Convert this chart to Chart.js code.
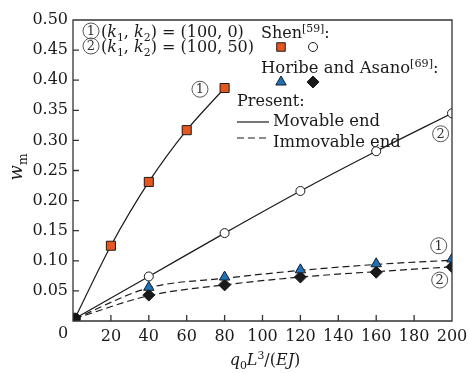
<!DOCTYPE html>
<html>
<head>
<meta charset="utf-8">
<script src="https://cdn.jsdelivr.net/npm/chart.js@4"></script>
<style>
  body { margin: 0; background: #fff; }
</style>
</head>
<body>
<canvas id="c" width="469" height="373"></canvas>
<script>
// values
const xShenSq = [20, 40, 60, 80];
const shenSq = [0.125, 0.231, 0.317, 0.387];
const xShenCirc = [40, 80, 120, 160, 200];
const shenCirc = [0.074, 0.146, 0.216, 0.282, 0.345];
const xHoribe = [40, 80, 120, 160, 200];
const horibeTri = [0.056, 0.073, 0.085, 0.095, 0.103];
const horibeDia = [0.043, 0.060, 0.073, 0.081, 0.090];

const origin = [1, 0.004];
const xMov1 = [1, 20, 40, 60, 80];
const mov1 = [0.004, 0.125, 0.231, 0.317, 0.387];
const xMov2 = [1, 40, 80, 120, 160, 200];
const mov2 = [0.004, 0.074, 0.146, 0.216, 0.282, 0.345];
const xImm = [1, 40, 80, 120, 160, 200];
const imm1 = [0.004, 0.055, 0.071, 0.084, 0.094, 0.101];
const imm2 = [0.004, 0.042, 0.060, 0.073, 0.082, 0.090];

// circled labels: [digit, x, y] in data units
const curveTags = [['1', 67, 0.385], ['2', 194, 0.311], ['1', 193, 0.125], ['2', 193.5, 0.068]];

const FONT = '"DejaVu Serif", serif';
const INK = '#1a1a1a';
const ORANGE = '#e8561f';
const BLUE = '#1d72b9';

const pts = (xs, ys) => xs.map((x, i) => ({ x, y: ys[i] }));

function drawRich(ctx, x, y, parts, size, align) {
  const seg = parts.map(p => {
    const s = p.v ? size * 0.68 : size;
    const f = (p.i ? 'italic ' : '') + s + 'px ' + FONT;
    ctx.font = f;
    return { t: p.t, f, w: ctx.measureText(p.t).width, dy: p.v === 'sub' ? size * 0.25 : p.v === 'sup' ? -size * 0.38 : 0 };
  });
  const total = seg.reduce((a, s) => a + s.w, 0);
  let cx = align === 'center' ? x - total / 2 : x;
  ctx.textAlign = 'left';
  ctx.textBaseline = 'alphabetic';
  seg.forEach(s => {
    ctx.font = s.f;
    ctx.fillText(s.t, cx, y + s.dy);
    cx += s.w;
  });
  return total;
}

function circled(ctx, cx, cy, d) {
  ctx.save();
  ctx.strokeStyle = '#444';
  ctx.lineWidth = 0.9;
  ctx.beginPath();
  ctx.arc(cx, cy, 8, 0, Math.PI * 2);
  ctx.stroke();
  ctx.fillStyle = '#333';
  ctx.font = '13px ' + FONT;
  ctx.textAlign = 'center';
  ctx.textBaseline = 'middle';
  ctx.fillText(d, cx, cy + 0.5);
  ctx.restore();
}

function drawFrame(chart) {
  const { ctx, chartArea: a, scales: { x, y } } = chart;
  ctx.save();
  ctx.strokeStyle = '#333';
  ctx.lineWidth = 1.3;
  ctx.setLineDash([]);
  ctx.beginPath();
  ctx.rect(a.left, a.top, a.right - a.left, a.bottom - a.top);
  x.ticks.forEach(t => {
    const px = x.getPixelForValue(t.value);
    ctx.moveTo(px, a.bottom);
    ctx.lineTo(px, a.bottom - 6);
  });
  y.ticks.forEach(t => {
    const py = y.getPixelForValue(t.value);
    ctx.moveTo(a.left, py);
    ctx.lineTo(a.left + 6, py);
  });
  ctx.stroke();
  ctx.restore();
}

const decor = {
  id: 'decor',
  beforeDatasetsDraw(chart) {
    const { ctx, chartArea: a, scales: { y } } = chart;
    ctx.save();
    ctx.fillStyle = INK;
    ctx.font = '16px ' + FONT;
    ctx.textAlign = 'center';
    ctx.textBaseline = 'middle';
    ctx.fillText('0', a.left - 10, y.getPixelForValue(0) + 13);

    // parameter legend
    circled(ctx, 91, 31, '1');
    circled(ctx, 91, 46, '2');
    const k = [{ t: '(' }, { t: 'k', i: 1 }, { t: '1', v: 'sub' }, { t: ', ' }, { t: 'k', i: 1 }, { t: '2', v: 'sub' }, { t: ') = ' }];
    drawRich(ctx, 101, 37, k.concat([{ t: '(100, 0)' }]), 16);
    drawRich(ctx, 101, 52, k.concat([{ t: '(100, 50)' }]), 16);

    // marker legend
    drawRich(ctx, 261, 38, [{ t: 'Shen' }, { t: '[59]', v: 'sup' }, { t: ':' }], 16);
    drawRich(ctx, 261, 73, [{ t: 'Horibe and Asano' }, { t: '[69]', v: 'sup' }, { t: ':' }], 16.4);
    drawRich(ctx, 237, 106, [{ t: 'Present:' }], 16);
    drawRich(ctx, 273, 126, [{ t: 'Movable end' }], 16.4);
    drawRich(ctx, 273, 147, [{ t: 'Immovable end' }], 16.4);
    ctx.strokeStyle = INK;
    ctx.lineWidth = 1.2;
    ctx.beginPath();
    ctx.moveTo(237, 122); ctx.lineTo(269, 122);
    ctx.stroke();
    ctx.setLineDash([7, 4]);
    ctx.beginPath();
    ctx.moveTo(237, 138); ctx.lineTo(269, 138);
    ctx.stroke();
    ctx.setLineDash([]);

    const H = Chart.helpers;
    ctx.lineWidth = 1;
    ctx.strokeStyle = INK;
    ctx.fillStyle = ORANGE;
    H.drawPoint(ctx, { pointStyle: 'rect', radius: 6, borderWidth: 1 }, 281, 47);
    ctx.fillStyle = '#fff';
    H.drawPoint(ctx, { pointStyle: 'circle', radius: 4.5, borderWidth: 1 }, 313, 47);
    ctx.fillStyle = BLUE;
    H.drawPoint(ctx, { pointStyle: 'triangle', radius: 6, borderWidth: 1 }, 281, 82);
    ctx.fillStyle = INK;
    H.drawPoint(ctx, { pointStyle: 'rectRot', radius: 6, borderWidth: 1 }, 313, 82);
    ctx.restore();
  },
  afterDraw(chart) {
    const { ctx, scales: { x, y } } = chart;
    drawFrame(chart);
    ctx.save();
    ctx.fillStyle = INK;
    drawRich(ctx, 265, 365, [{ t: 'q', i: 1 }, { t: '0', v: 'sub' }, { t: 'L', i: 1 }, { t: '3', v: 'sup' }, { t: '/(' }, { t: 'EJ', i: 1 }, { t: ')' }], 16, 'center');
    ctx.translate(22, 167);
    ctx.rotate(-Math.PI / 2);
    drawRich(ctx, 0, 0, [{ t: 'w', i: 1 }, { t: 'm', v: 'sub' }], 18, 'center');
    ctx.restore();
    curveTags.forEach(([d, vx, vy]) => circled(ctx, x.getPixelForValue(vx), y.getPixelForValue(vy), d));
  }
};

const lineDs = (xs, ys, dash) => ({
  type: 'line', data: pts(xs, ys), borderColor: INK, borderWidth: 1.2,
  borderDash: dash || [], pointRadius: 0, cubicInterpolationMode: 'monotone', order: 2
});
const markDs = (xs, ys, style, fill, r) => ({
  type: 'scatter', data: pts(xs, ys), pointStyle: style, pointRadius: r, pointHoverRadius: r,
  backgroundColor: fill, borderColor: INK, borderWidth: 1, order: 1
});

new Chart(document.getElementById('c'), {
  type: 'scatter',
  data: {
    datasets: [
      lineDs(xMov1, mov1),
      lineDs(xMov2, mov2),
      lineDs(xImm, imm1, [7, 4]),
      lineDs(xImm, imm2, [7, 4]),
      markDs(xShenSq, shenSq, 'rect', ORANGE, 6.4),
      markDs(xShenCirc, shenCirc, 'circle', '#fff', 4.5),
      markDs(xHoribe, horibeTri, 'triangle', BLUE, 6),
      markDs(xHoribe, horibeDia, 'rectRot', INK, 6),
      markDs([origin[0]], [origin[1]], 'circle', '#111', 5.5)
    ]
  },
  plugins: [decor],
  options: {
    responsive: false,
    animation: false,
    layout: { padding: { top: 20, right: 17, left: 0, bottom: 0 } },
    plugins: { legend: { display: false }, tooltip: { enabled: false } },
    scales: {
      x: {
        type: 'linear', min: 0, max: 200,
        grid: { display: false, drawTicks: false }, border: { display: false },
        ticks: { stepSize: 20, padding: 6, color: INK, font: { family: FONT, size: 16 }, maxRotation: 0,
          callback: v => v === 0 ? '' : v },
        afterFit: s => { s.height = 52; s.paddingLeft = 0; s.paddingRight = 0; }
      },
      y: {
        min: 0, max: 0.5,
        grid: { display: false, drawTicks: false }, border: { display: false },
        ticks: { stepSize: 0.05, padding: 5, color: INK, font: { family: FONT, size: 16 },
          callback: v => v === 0 ? '' : v.toFixed(2) },
        afterFit: s => { s.width = 73; s.paddingTop = 0; s.paddingBottom = 0; }
      }
    }
  }
});
</script>
</body>
</html>
